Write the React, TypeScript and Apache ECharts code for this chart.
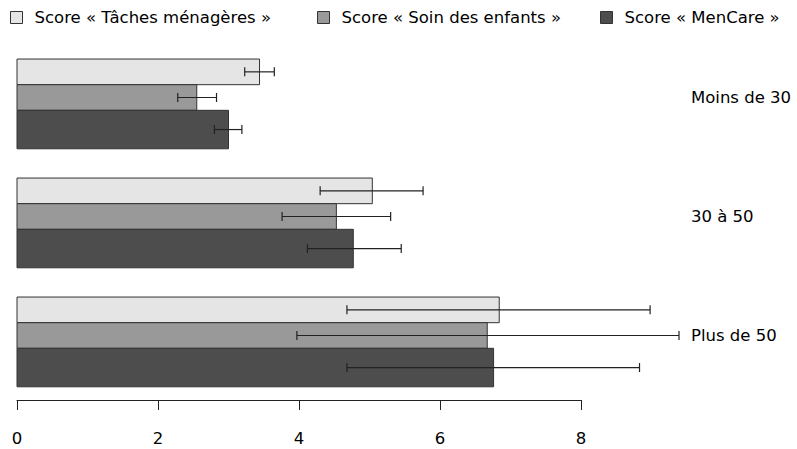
import React, { useEffect, useRef } from "react";
import * as echarts from "echarts";

const categories = ["Moins de 30", "30 à 50", "Plus de 50"];
const seriesNames = [
  "Score « Tâches ménagères »",
  "Score « Soin des enfants »",
  "Score « MenCare »",
];
const menageMean = [3.44, 5.04, 6.84];
const menageLow = [3.23, 4.3, 4.68];
const menageHigh = [3.65, 5.76, 8.98];
const soinMean = [2.55, 4.53, 6.67];
const soinLow = [2.28, 3.76, 3.97];
const soinHigh = [2.83, 5.3, 9.39];
const mencareMean = [3.0, 4.77, 6.76];
const mencareLow = [2.8, 4.12, 4.68];
const mencareHigh = [3.19, 5.45, 8.83];
const xTicks = [0, 2, 4, 6, 8];

const colors = ["#e5e5e5", "#999999", "#4d4d4d"];
const FONT = "DejaVu Sans, Liberation Sans, Arial, sans-serif";

export default function App() {
  const ref = useRef<HTMLDivElement>(null);
  useEffect(() => {
    if (!ref.current) return;
    const chart = echarts.init(ref.current, null, { renderer: "svg" });
    const means = [menageMean, soinMean, mencareMean];
    const lows = [menageLow, soinLow, mencareLow];
    const highs = [menageHigh, soinHigh, mencareHigh];

    const makeSeries = (s: number) => ({
      type: "custom",
      name: seriesNames[s],
      clip: false,
      itemStyle: { color: colors[s] },
      data: categories.map((_, i) => [i, means[s][i], lows[s][i], highs[s][i]]),
      renderItem: (params: any, api: any) => {
        const cat = api.value(0);
        const val = api.value(1);
        const lo = api.value(2);
        const hi = api.value(3);
        const band = api.size([0, 1])[1];
        const slot = band * 0.2155;
        const p0 = api.coord([0, cat]);
        const pv = api.coord([val, cat]);
        const top = p0[1] - 1.5 * slot + s * slot;
        const h = s === 2 ? slot * 1.5 : slot;
        const cy = top + h / 2;
        const xl = api.coord([lo, cat])[0];
        const xh = api.coord([hi, cat])[0];
        const cap = 4.5;
        const lineStyle = { stroke: "#222", lineWidth: 1.2 };
        return {
          type: "group",
          children: [
            {
              type: "rect",
              shape: { x: p0[0], y: top, width: pv[0] - p0[0], height: h },
              style: { fill: colors[s], stroke: "#333", lineWidth: 1 },
            },
            { type: "line", shape: { x1: xl, y1: cy, x2: xh, y2: cy }, style: lineStyle },
            { type: "line", shape: { x1: xl, y1: cy - cap, x2: xl, y2: cy + cap }, style: lineStyle },
            { type: "line", shape: { x1: xh, y1: cy - cap, x2: xh, y2: cy + cap }, style: lineStyle },
          ],
        };
      },
    });

    const legendPos = [5, 312, 595];
    chart.setOption({
      animation: false,
      backgroundColor: "#ffffff",
      textStyle: { fontFamily: FONT },
      legend: seriesNames.map((n, i) => ({
        data: [{ name: n, icon: "rect" }],
        left: legendPos[i],
        top: 4,
        itemWidth: 12,
        itemHeight: 12,
        itemStyle: { borderColor: "#333", borderWidth: 1 },
        textStyle: { fontSize: 16.5, color: "#000", fontFamily: FONT, padding: [0, 0, 0, 7] },
        selectedMode: false,
      })),
      grid: { left: 17, right: 216, top: 38, height: 357 },
      xAxis: {
        type: "value",
        min: xTicks[0],
        max: xTicks[xTicks.length - 1],
        interval: 2,
        offset: 5,
        axisLine: { show: true, lineStyle: { color: "#222", width: 1 } },
        axisTick: { show: true, length: 10, lineStyle: { color: "#222" } },
        axisLabel: { fontSize: 16.5, color: "#000", margin: 30, fontFamily: FONT },
        splitLine: { show: false },
      },
      yAxis: {
        type: "category",
        data: categories,
        inverse: true,
        position: "right",
        axisLine: { show: false },
        axisTick: { show: false },
        axisLabel: { fontSize: 16.5, color: "#000", margin: 110, fontFamily: FONT },
        splitLine: { show: false },
      },
      series: [0, 1, 2].map(makeSeries),
    });
    return () => chart.dispose();
  }, []);
  return <div ref={ref} style={{ width: 797, height: 449, position: "fixed", left: 0, top: 0 }} />;
}
